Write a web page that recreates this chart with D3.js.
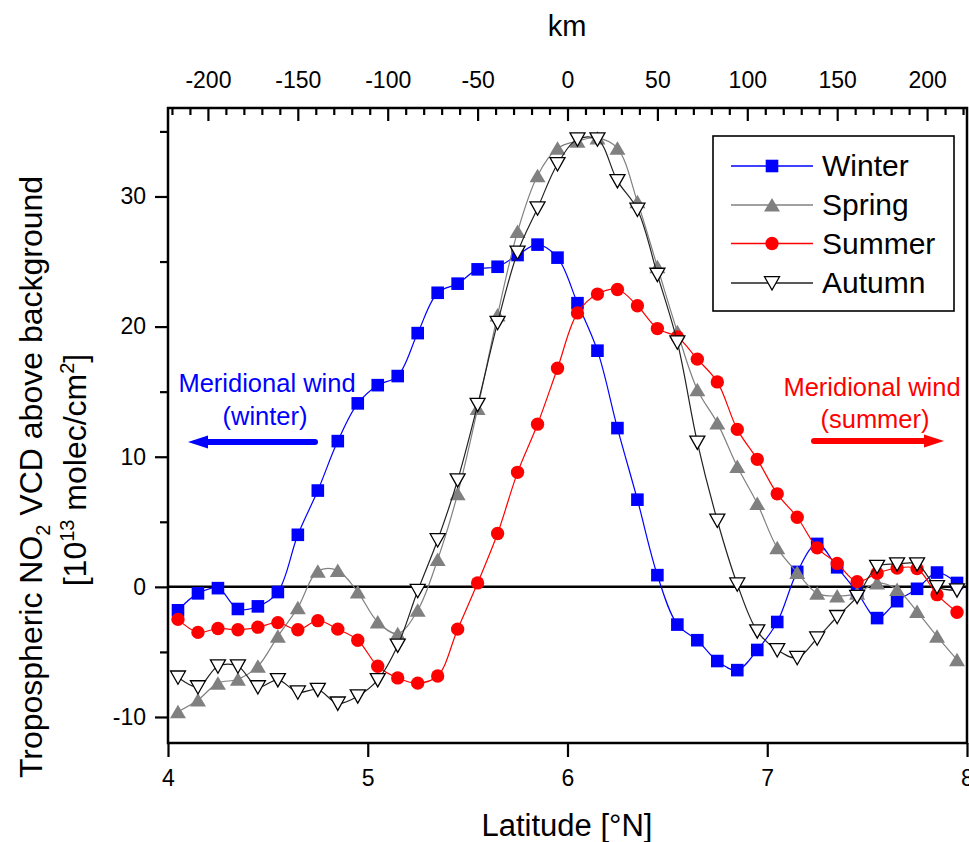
<!DOCTYPE html>
<html>
<head>
<meta charset="utf-8">
<script src="https://cdn.jsdelivr.net/npm/d3@7"></script>
<style>
  html, body { margin: 0; padding: 0; background: #fff; }
  svg { display: block; font-family: "Liberation Sans", Arial, sans-serif; }
</style>
</head>
<body>
<svg id="chart" width="969" height="842"></svg>
<script>
// Latitude bins (°N), centre of each 0.1° band
const latitude = [4.05, 4.15, 4.25, 4.35, 4.45, 4.55, 4.65, 4.75, 4.85, 4.95,
                  5.05, 5.15, 5.25, 5.35, 5.45, 5.55, 5.65, 5.75, 5.85, 5.95,
                  6.05, 6.15, 6.25, 6.35, 6.45, 6.55, 6.65, 6.75, 6.85, 6.95,
                  7.05, 7.15, 7.25, 7.35, 7.45, 7.55, 7.65, 7.75, 7.85, 7.95];

// Tropospheric NO2 VCD above background [1e13 molec/cm2], per season
const winter = [-1.8, -0.5, -0.1, -1.7, -1.5, -0.4, 4.0, 7.4, 11.2, 14.1,
                15.5, 16.2, 19.5, 22.6, 23.3, 24.4, 24.6, 25.5, 26.3, 25.3,
                21.8, 18.15, 12.2, 6.7, 0.9, -2.9, -4.1, -5.7, -6.4, -4.85,
                -2.7, 1.15, 3.3, 1.5, -0.4, -2.4, -1.1, -0.15, 1.1, 0.3];
const spring = [-9.6, -8.7, -7.4, -7.1, -6.1, -3.8, -1.6, 1.2, 1.25, -0.4,
                -2.7, -3.6, -1.8, 2.1, 7.15, 13.7, 20.9, 27.3, 31.6, 33.7,
                34.25, 34.5, 33.7, 29.6, 24.6, 19.6, 15.15, 12.6, 9.25, 6.4,
                3.0, 1.1, -0.5, -0.7, -0.5, 0.3, -0.2, -1.9, -3.8, -5.6];
const summer = [-2.5, -3.5, -3.2, -3.3, -3.1, -2.75, -3.3, -2.6, -3.25, -4.1,
                -6.1, -7.0, -7.4, -6.85, -3.25, 0.3, 4.1, 8.8, 12.5, 16.8,
                21.05, 22.5, 22.85, 21.6, 19.85, 19.2, 17.5, 15.75, 12.1, 9.8,
                7.15, 5.35, 3.0, 1.8, 0.4, 1.05, 1.45, 1.4, -0.6, -1.95];
const autumn = [-6.95, -7.7, -6.1, -6.1, -7.7, -7.15, -8.1, -7.9, -8.95, -8.4,
                -7.15, -4.5, -0.3, 3.6, 8.2, 14.0, 20.3, 25.7, 29.1, 32.5,
                34.4, 34.4, 31.2, 29.0, 24.0, 18.8, 11.1, 5.1, 0.2, -3.4,
                -4.85, -5.45, -3.95, -2.3, -0.75, 1.55, 1.75, 1.75, 0.0, -0.25];

const seasonNames = ["Winter", "Spring", "Summer", "Autumn"];

// Axis ticks
const latTicks = [4, 5, 6, 7, 8];
const yMajorTicks = [-10, 0, 10, 20, 30];
const yMinorTicks = [-5, 5, 15, 25, 35];
const kmMajorTicks = [-200, -150, -100, -50, 0, 50, 100, 150, 200];
const kmMinorTicks = [-220, -210, -190, -180, -170, -160, -140, -130, -120, -110,
                      -90, -80, -70, -60, -40, -30, -20, -10, 10, 20, 30, 40,
                      60, 70, 80, 90, 110, 120, 130, 140, 160, 170, 180, 190, 210, 220];

const KM_PER_DEG = 111.1;

const svg = d3.select("#chart");
const margin = { left: 168, right: 2, top: 108, bottom: 99 };
const W = 969, H = 842;
const x0 = margin.left, x1 = W - margin.right;
const y0 = margin.top, y1 = H - margin.bottom;

const x = d3.scaleLinear().domain([4, 8]).range([x0, x1]);
const y = d3.scaleLinear().domain([-12, 36.8]).range([y1, y0]);
const km = d3.scaleLinear()
  .domain([(4 - 6) * KM_PER_DEG, (8 - 6) * KM_PER_DEG])
  .range([x0, x1]);

svg.append("rect").attr("width", W).attr("height", H).attr("fill", "#fff");

const tickFont = "23px";

// Bottom axis (latitude)
const gB = svg.append("g").attr("transform", `translate(0,${y1})`)
  .call(d3.axisBottom(x).tickValues(latTicks).tickFormat(d3.format("d")).tickSize(14).tickPadding(13));
// Left axis, major + minor
const gL = svg.append("g").attr("transform", `translate(${x0},0)`)
  .call(d3.axisLeft(y).tickValues(yMajorTicks).tickFormat(d3.format("d")).tickSize(13).tickPadding(9));
const gLm = svg.append("g").attr("transform", `translate(${x0},0)`)
  .call(d3.axisLeft(y).tickValues(yMinorTicks).tickFormat("").tickSize(8));
// Top axis (km), ticks pointing inwards
const gT = svg.append("g").attr("transform", `translate(0,${y0})`)
  .call(d3.axisTop(km).tickValues(kmMajorTicks).tickFormat(d3.format("d")).tickSize(-13).tickPadding(20));
const gTm = svg.append("g").attr("transform", `translate(0,${y0})`)
  .call(d3.axisTop(km).tickValues(kmMinorTicks).tickFormat("").tickSize(-7));

[gB, gL, gLm, gT, gTm].forEach(g => {
  g.select(".domain").remove();
  g.selectAll(".tick line").attr("stroke", "#000").attr("stroke-width", 2.2);
  g.selectAll(".tick text").attr("fill", "#000").style("font-size", tickFont)
    .style("font-family", "Liberation Sans, Arial, sans-serif");
});
// Minus signs as plain hyphens
svg.selectAll(".tick text").text(function () { return d3.select(this).text().replace("−", "-"); });

// Plot frame
svg.append("rect")
  .attr("x", x0).attr("y", y0).attr("width", x1 - x0).attr("height", y1 - y0)
  .attr("fill", "none").attr("stroke", "#000").attr("stroke-width", 2.5);

// Zero line
svg.append("line")
  .attr("x1", x0).attr("x2", x1).attr("y1", y(0)).attr("y2", y(0))
  .attr("stroke", "#000").attr("stroke-width", 2.5);

// Axis titles
svg.append("text").attr("x", 567).attr("y", 36).attr("text-anchor", "middle")
  .style("font-size", "29px").text("km");
svg.append("text").attr("x", 567).attr("y", 836).attr("text-anchor", "middle")
  .style("font-size", "31px").text("Latitude [°N]");

const yt1 = svg.append("text").attr("transform", "translate(42,477) rotate(-90)")
  .attr("text-anchor", "middle").style("font-size", "32px");
yt1.append("tspan").text("Tropospheric NO");
yt1.append("tspan").attr("dy", 8).style("font-size", "20px").text("2");
yt1.append("tspan").attr("dy", -8).text(" VCD above background");

const yt2 = svg.append("text").attr("transform", "translate(86,470) rotate(-90)")
  .attr("text-anchor", "middle").style("font-size", "32px");
yt2.append("tspan").text("[10");
yt2.append("tspan").attr("dy", -12).style("font-size", "20px").text("13");
yt2.append("tspan").attr("dy", 12).text(" molec/cm");
yt2.append("tspan").attr("dy", -12).style("font-size", "20px").text("2");
yt2.append("tspan").attr("dy", 12).text("]");

// Series definitions
const series = [
  { name: "Winter", values: winter, line: "#0000ff", fill: "#0000ff", stroke: "none", shape: "square" },
  { name: "Spring", values: spring, line: "#808080", fill: "#808080", stroke: "none", shape: "up" },
  { name: "Summer", values: summer, line: "#ff0000", fill: "#ff0000", stroke: "none", shape: "circle" },
  { name: "Autumn", values: autumn, line: "#222222", fill: "#ffffff", stroke: "#000", shape: "down" }
];

function markerPath(shape) {
  switch (shape) {
    case "square": return "M-6.3,-6.3H6.3V6.3H-6.3Z";
    case "circle": return d3.symbol(d3.symbolCircle, 140)();
    case "up": return "M0,-7L8,6.5L-8,6.5Z";
    case "down": return "M-7.5,-6.3L7.5,-6.3L0,7Z";
  }
}

const lineGen = d3.line()
  .x(d => x(d[0])).y(d => y(d[1]))
  .curve(d3.curveCatmullRom.alpha(0.5));

series.forEach(s => {
  const pts = latitude.map((lat, i) => [lat, s.values[i]]);
  const g = svg.append("g");
  g.append("path").attr("d", lineGen(pts))
    .attr("fill", "none").attr("stroke", s.line).attr("stroke-width", 1.2);
  g.selectAll("path.m").data(pts).join("path").attr("class", "m")
    .attr("transform", d => `translate(${x(d[0])},${y(d[1])})`)
    .attr("d", markerPath(s.shape))
    .attr("fill", s.fill).attr("stroke", s.stroke).attr("stroke-width", 1.3);
});

// Legend
const leg = svg.append("g");
leg.append("rect").attr("x", 713).attr("y", 136).attr("width", 241).attr("height", 175)
  .attr("fill", "#fff").attr("stroke", "#000").attr("stroke-width", 1.6);
const legY = [166, 205, 243.5, 283];
series.forEach((s, i) => {
  const gy = legY[i];
  leg.append("line").attr("x1", 731).attr("x2", 813).attr("y1", gy).attr("y2", gy)
    .attr("stroke", s.line).attr("stroke-width", 1.3);
  leg.append("path").attr("transform", `translate(772,${gy})`).attr("d", markerPath(s.shape))
    .attr("fill", s.fill).attr("stroke", s.stroke).attr("stroke-width", 1.3);
  leg.append("text").attr("x", 822).attr("y", gy + 10).style("font-size", "30px").text(seasonNames[i]);
});

// Wind annotations
function arrow(xFrom, xTo, yy, color) {
  const dir = Math.sign(xTo - xFrom);
  const headLen = 20;
  svg.append("line").attr("x1", xFrom).attr("x2", xTo - dir * headLen * 0.8)
    .attr("y1", yy).attr("y2", yy)
    .attr("stroke", color).attr("stroke-width", 6).attr("stroke-linecap", "round");
  svg.append("path")
    .attr("d", `M${xTo},${yy}L${xTo - dir * headLen},${yy - 6.5}L${xTo - dir * headLen},${yy + 6.5}Z`)
    .attr("fill", color);
}

svg.append("text").attr("x", 267).attr("y", 392).attr("text-anchor", "middle")
  .attr("fill", "#0000ff").style("font-size", "25.5px").text("Meridional wind");
svg.append("text").attr("x", 265).attr("y", 425).attr("text-anchor", "middle")
  .attr("fill", "#0000ff").style("font-size", "25.5px").text("(winter)");
arrow(315, 188, 442, "#0000ff");

svg.append("text").attr("x", 872).attr("y", 396).attr("text-anchor", "middle")
  .attr("fill", "#ff0000").style("font-size", "25.5px").text("Meridional wind");
svg.append("text").attr("x", 875).attr("y", 428).attr("text-anchor", "middle")
  .attr("fill", "#ff0000").style("font-size", "25.5px").text("(summer)");
arrow(814, 944, 441, "#ff0000");
</script>
</body>
</html>
